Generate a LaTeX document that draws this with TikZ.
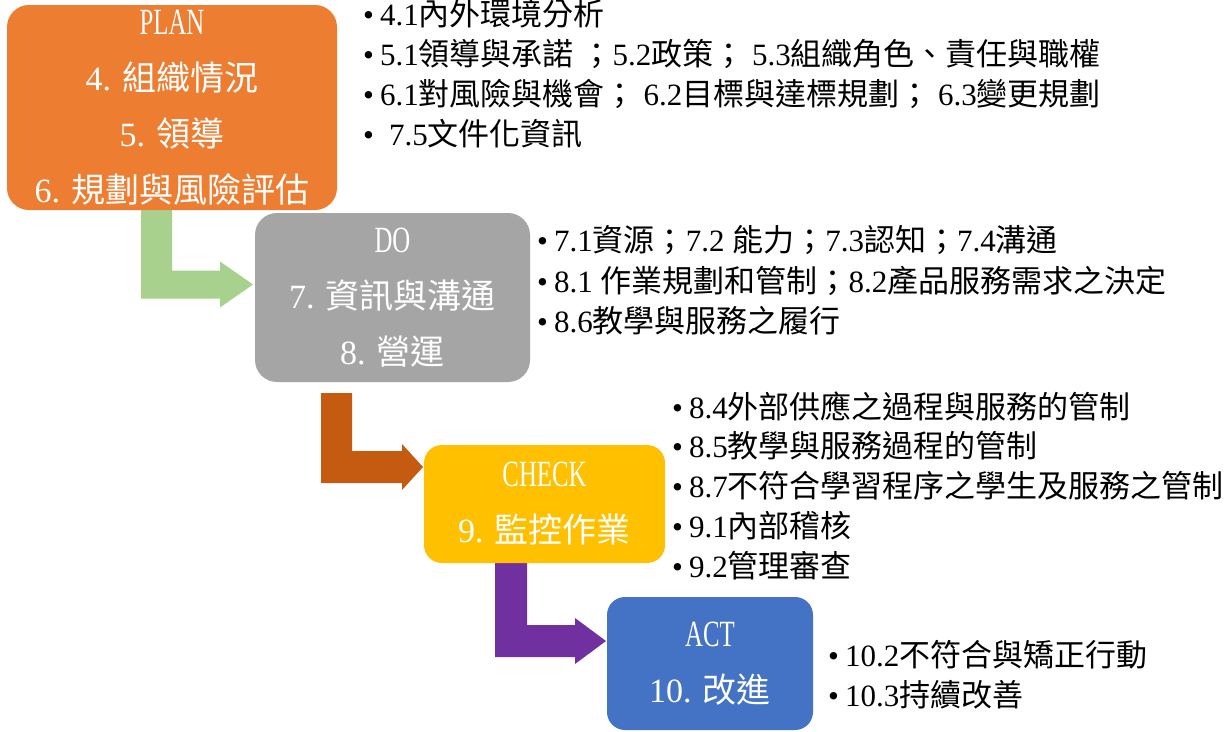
\documentclass[tikz,border=0pt]{standalone}
\usepackage{fontspec}
\setmainfont{Liberation Serif}
\newfontfamily\cjk{Noto Sans CJK TC}
\newfontfamily\titlefont{Liberation Serif}[FakeStretch=0.67]
\usetikzlibrary{calc}

% automatic switch to the CJK font for CJK characters
\XeTeXinterchartokenstate=1
\newXeTeXintercharclass\CJKcls
\newcount\cjkc
\def\setcjkrange#1#2{\cjkc=#1\relax\loop\XeTeXcharclass\cjkc=\CJKcls\relax\ifnum\cjkc<#2\relax\advance\cjkc by 1\relax\repeat}
\setcjkrange{"3000}{"303F}
\setcjkrange{"4E00}{"9FFF}
\setcjkrange{"FF00}{"FFEF}
\XeTeXinterchartoks 0 \CJKcls = {\cjk}
\XeTeXinterchartoks 4095 \CJKcls = {\cjk}
\XeTeXinterchartoks \CJKcls 0 = {\rmfamily}
\XeTeXinterchartoks \CJKcls 4095 = {\rmfamily}

\definecolor{planC}{HTML}{ED7D31}
\definecolor{doC}{HTML}{A5A5A5}
\definecolor{checkC}{HTML}{FFC000}
\definecolor{actC}{HTML}{4472C4}
\definecolor{greenA}{HTML}{A9D18E}
\definecolor{brownA}{HTML}{C55A11}
\definecolor{purpleA}{HTML}{7030A0}

\newcommand\ttl[1]{{\titlefont\fontsize{37}{56}\selectfont #1}}
\newcommand\bul{•\hspace{6pt}}
% #1 colour, #2 start (top of bar), #3 tip, #4 half bar width, #5 half thickness, #6 head length, #7 head half width
\newcommand\bentarrow[7]{%
  \fill[#1] let \p1=(#2), \p2=(#3) in
    (\x1-#4,\y1) -- (\x1+#4,\y1) -- (\x1+#4,\y2+#5) -- (\x2-#6,\y2+#5)
    -- (\x2-#6,\y2+#7) -- (\x2,\y2) -- (\x2-#6,\y2-#7) -- (\x2-#6,\y2-#5)
    -- (\x1-#4,\y2-#5) -- cycle;}

\begin{document}
\begin{tikzpicture}[x=1pt,y=-1pt,
  phase/.style={rounded corners=22pt, text=white, align=center, inner sep=0pt,
    font=\fontsize{34}{56}\selectfont},
  item/.style={anchor=west, inner sep=0pt, text=black,
    font=\fontsize{31}{37}\selectfont}]

\useasboundingbox (0,0) rectangle (1226,731);
\fill[white] (0,0) rectangle (1226,731);

% bent arrows
\coordinate (gs) at (156.5,208);
\coordinate (gt) at (253,284.5);
\bentarrow{greenA}{gs}{gt}{15.5pt}{14pt}{33pt}{23pt}
\coordinate (bs) at (336.5,393);
\coordinate (bt) at (423,467);
\bentarrow{brownA}{bs}{bt}{15.5pt}{16pt}{21pt}{23pt}
\coordinate (ps) at (511,562);
\coordinate (pt) at (606,641);
\bentarrow{purpleA}{ps}{pt}{16pt}{16pt}{31pt}{23pt}

% phase boxes
\node[phase, fill=planC, minimum width=330pt, minimum height=205pt] (plan) at (172,107.5)
  {\ttl{PLAN}\\4. 組織情況\\5. 領導\\6. 規劃與風險評估};
\node[phase, fill=doC, minimum width=275pt, minimum height=169pt] (do) at (392.5,297.5)
  {\ttl{DO}\\7. 資訊與溝通\\8. 營運};
\node[phase, fill=checkC, rounded corners=18pt, minimum width=241pt, minimum height=118pt] (check) at (544.5,504)
  {\ttl{CHECK}\\9. 監控作業};
\node[phase, fill=actC, rounded corners=18pt, minimum width=206pt, minimum height=133pt] (act) at (710,663.5)
  {\ttl{ACT}\\10. 改進};

% PLAN items
\node[item] (p1) at (363,14) {\bul 4.1內外環境分析};
\node[item] (p2) at (363,54) {\bul 5.1領導與承諾 ；5.2政策； 5.3組織角色、責任與職權};
\node[item] (p3) at (363,94) {\bul 6.1對風險與機會； 6.2目標與達標規劃； 6.3變更規劃};
\node[item] (p4) at (363,134) {\bul\hspace{9pt}7.5文件化資訊};

% DO items
\node[item] (d1) at (537,240) {\bul 7.1資源；7.2 能力；7.3認知；7.4溝通};
\node[item] (d2) at (537,281) {\bul 8.1 作業規劃和管制；8.2產品服務需求之決定};
\node[item] (d3) at (537,321) {\bul 8.6教學與服務之履行};

% CHECK items
\node[item] (c1) at (672,406) {\bul 8.4外部供應之過程與服務的管制};
\node[item] (c2) at (672,446) {\bul 8.5教學與服務過程的管制};
\node[item] (c3) at (672,486) {\bul 8.7不符合學習程序之學生及服務之管制};
\node[item] (c4) at (672,526) {\bul 9.1內部稽核};
\node[item] (c5) at (672,566) {\bul 9.2管理審查};

% ACT items
\node[item] (a1) at (828,655) {\bul 10.2不符合與矯正行動};
\node[item] (a2) at (828,695) {\bul 10.3持續改善};
\end{tikzpicture}
\end{document}
